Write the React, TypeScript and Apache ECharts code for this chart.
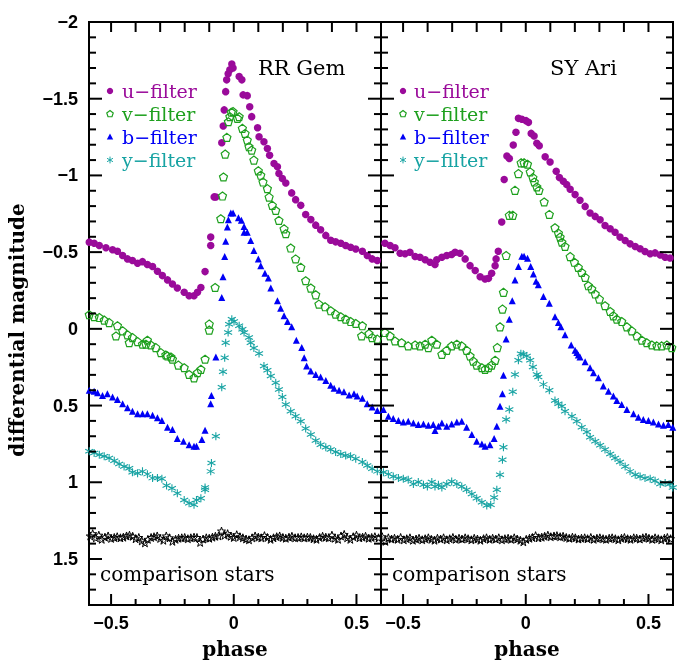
import React, { useEffect, useRef } from 'react';
import * as echarts from 'echarts';

// ---------- axis setup ----------
const phaseMin = -0.59;
const phaseMax = 0.6;
const magMin = -2;
const magMax = 1.8;
const xMajorTicks = [-0.5, 0, 0.5];
const xMinorTicks = [-0.4, -0.3, -0.2, -0.1, 0.1, 0.2, 0.3, 0.4];
const yMajorTicks = [-2, -1.5, -1, -0.5, 0, 0.5, 1, 1.5];
const yMinorTicks = [-1.9, -1.8, -1.7, -1.6, -1.4, -1.3, -1.2, -1.1, -0.9, -0.8, -0.7, -0.6, -0.4, -0.3, -0.2, -0.1,
  0.1, 0.2, 0.3, 0.4, 0.6, 0.7, 0.8, 0.9, 1.1, 1.2, 1.3, 1.4, 1.6, 1.7];

const starNames = ['RR Gem', 'SY Ari'];
const filterNames = ['u−filter', 'v−filter', 'b−filter', 'y−filter'];
const compLabel = 'comparison stars';

// ---------- RR Gem (left panel) ----------
const rrU = [[-0.589,-0.565],[-0.569,-0.558],[-0.548,-0.543],[-0.521,-0.528],[-0.494,-0.515],[-0.474,-0.506],[-0.453,-0.478],[-0.433,-0.456],[-0.413,-0.445],[-0.392,-0.427],[-0.372,-0.438],[-0.352,-0.419],[-0.331,-0.406],[-0.311,-0.375],[-0.291,-0.347],[-0.270,-0.319],[-0.250,-0.292],[-0.230,-0.266],[-0.202,-0.238],[-0.182,-0.216],[-0.162,-0.216],[-0.148,-0.238],[-0.134,-0.27],[-0.117,-0.373],[-0.094,-0.543],[-0.094,-0.598],[-0.08,-0.86],[-0.073,-0.859],[-0.049,-1.213],[-0.043,-1.322],[-0.039,-1.427],[-0.033,-1.546],[-0.029,-1.623],[-0.023,-1.662],[-0.016,-1.688],[-0.008,-1.726],[-0.003,-1.7],[0.022,-1.645],[0.033,-1.623],[0.038,-1.525],[0.055,-1.52],[0.065,-1.448],[0.073,-1.383],[0.097,-1.311],[0.103,-1.252],[0.123,-1.219],[0.137,-1.176],[0.146,-1.132],[0.164,-1.078],[0.178,-1.056],[0.184,-1.012],[0.198,-0.98],[0.212,-0.951],[0.236,-0.886],[0.252,-0.842],[0.273,-0.805],[0.293,-0.745],[0.314,-0.712],[0.334,-0.676],[0.354,-0.646],[0.375,-0.609],[0.395,-0.578],[0.415,-0.567],[0.436,-0.558],[0.456,-0.543],[0.476,-0.532],[0.497,-0.52],[0.524,-0.506],[0.544,-0.478],[0.564,-0.456],[0.585,-0.445]];
const rrV = [[-0.589,-0.092],[-0.569,-0.079],[-0.548,-0.074],[-0.528,-0.057],[-0.508,-0.041],[-0.48,0.046],[-0.474,-0.02],[-0.453,0.013],[-0.433,0.039],[-0.426,0.09],[-0.413,0.057],[-0.392,0.083],[-0.372,0.1],[-0.358,0.1],[-0.352,0.074],[-0.338,0.105],[-0.318,0.122],[-0.297,0.155],[-0.277,0.17],[-0.27,0.177],[-0.256,0.183],[-0.25,0.198],[-0.226,0.236],[-0.202,0.253],[-0.182,0.297],[-0.162,0.319],[-0.148,0.286],[-0.134,0.264],[-0.117,0.198],[-0.1,0.008],[-0.1,-0.031],[-0.076,-0.27],[-0.053,-0.718],[-0.046,-0.866],[-0.042,-0.99],[-0.035,-1.139],[-0.028,-1.248],[-0.022,-1.35],[-0.016,-1.383],[-0.01,-1.412],[-0.003,-1.416],[0.015,-1.372],[0.022,-1.383],[0.035,-1.307],[0.046,-1.274],[0.055,-1.23],[0.062,-1.187],[0.073,-1.165],[0.082,-1.1],[0.1,-1.03],[0.11,-1.001],[0.119,-0.957],[0.137,-0.914],[0.144,-0.859],[0.157,-0.805],[0.171,-0.772],[0.184,-0.707],[0.205,-0.652],[0.212,-0.62],[0.232,-0.527],[0.252,-0.456],[0.273,-0.401],[0.293,-0.314],[0.314,-0.266],[0.334,-0.222],[0.347,-0.161],[0.372,-0.144],[0.395,-0.118],[0.415,-0.096],[0.436,-0.079],[0.456,-0.063],[0.476,-0.048],[0.497,-0.035],[0.521,0.046],[0.524,-0.02],[0.551,0.031],[0.564,0.057],[0.585,0.067]];
const rrB = [[-0.589,0.401],[-0.569,0.406],[-0.555,0.417],[-0.535,0.434],[-0.515,0.423],[-0.494,0.445],[-0.474,0.46],[-0.453,0.489],[-0.433,0.515],[-0.413,0.537],[-0.392,0.554],[-0.372,0.554],[-0.352,0.554],[-0.331,0.563],[-0.311,0.58],[-0.293,0.597],[-0.27,0.641],[-0.25,0.656],[-0.23,0.715],[-0.205,0.733],[-0.182,0.755],[-0.162,0.766],[-0.152,0.766],[-0.13,0.722],[-0.117,0.661],[-0.094,0.489],[-0.091,0.434],[-0.073,0.183],[-0.049,-0.205],[-0.044,-0.34],[-0.037,-0.471],[-0.033,-0.571],[-0.026,-0.663],[-0.022,-0.711],[-0.012,-0.755],[-0.003,-0.755],[0.019,-0.724],[0.031,-0.707],[0.042,-0.667],[0.042,-0.63],[0.055,-0.63],[0.069,-0.576],[0.082,-0.51],[0.1,-0.456],[0.11,-0.412],[0.127,-0.362],[0.141,-0.332],[0.151,-0.266],[0.178,-0.183],[0.191,-0.135],[0.205,-0.085],[0.219,-0.048],[0.236,-0.013],[0.255,0.074],[0.277,0.122],[0.287,0.188],[0.297,0.242],[0.314,0.275],[0.334,0.297],[0.354,0.314],[0.375,0.336],[0.395,0.367],[0.409,0.388],[0.429,0.401],[0.449,0.41],[0.47,0.432],[0.49,0.423],[0.503,0.438],[0.524,0.453],[0.544,0.489],[0.564,0.51],[0.585,0.532]];
const rrY = [[-0.589,0.798],[-0.569,0.809],[-0.548,0.82],[-0.528,0.831],[-0.508,0.842],[-0.487,0.86],[-0.467,0.881],[-0.447,0.897],[-0.426,0.908],[-0.413,0.934],[-0.392,0.941],[-0.372,0.929],[-0.352,0.947],[-0.331,0.973],[-0.311,0.973],[-0.293,0.977],[-0.274,1.021],[-0.252,1.039],[-0.23,1.071],[-0.202,1.115],[-0.182,1.137],[-0.162,1.147],[-0.152,1.115],[-0.134,1.104],[-0.117,1.049],[-0.117,1.034],[-0.094,0.929],[-0.091,0.875],[-0.073,0.7],[-0.049,0.38],[-0.044,0.28],[-0.037,0.188],[-0.033,0.09],[-0.023,0.024],[-0.019,-0.03],[-0.008,-0.063],[0.001,-0.048],[0.022,-0.02],[0.035,0.002],[0.042,0.024],[0.062,0.057],[0.069,0.09],[0.082,0.125],[0.103,0.16],[0.123,0.242],[0.137,0.27],[0.151,0.308],[0.171,0.351],[0.184,0.395],[0.198,0.445],[0.212,0.493],[0.232,0.537],[0.252,0.569],[0.273,0.602],[0.293,0.65],[0.314,0.689],[0.334,0.728],[0.354,0.755],[0.375,0.772],[0.395,0.787],[0.415,0.803],[0.436,0.816],[0.456,0.825],[0.476,0.831],[0.497,0.846],[0.524,0.868],[0.544,0.89],[0.564,0.912],[0.585,0.929]];
const rrComp = [[-0.585,1.35],[-0.575,1.335],[-0.562,1.362],[-0.55,1.345],[-0.538,1.372],[-0.525,1.358],[-0.512,1.35],[-0.5,1.366],[-0.487,1.36],[-0.475,1.355],[-0.462,1.362],[-0.45,1.358],[-0.437,1.35],[-0.425,1.345],[-0.412,1.352],[-0.4,1.368],[-0.387,1.36],[-0.375,1.382],[-0.362,1.395],[-0.35,1.372],[-0.337,1.36],[-0.325,1.355],[-0.312,1.35],[-0.3,1.366],[-0.287,1.378],[-0.275,1.35],[-0.262,1.362],[-0.25,1.385],[-0.237,1.372],[-0.225,1.365],[-0.212,1.362],[-0.2,1.36],[-0.187,1.368],[-0.175,1.362],[-0.162,1.358],[-0.15,1.36],[-0.137,1.392],[-0.125,1.37],[-0.112,1.362],[-0.1,1.365],[-0.087,1.358],[-0.075,1.352],[-0.062,1.35],[-0.05,1.318],[-0.037,1.345],[-0.025,1.335],[-0.012,1.352],[0,1.36],[0.012,1.342],[0.025,1.355],[0.037,1.362],[0.05,1.37],[0.062,1.375],[0.075,1.362],[0.087,1.35],[0.1,1.358],[0.112,1.362],[0.125,1.348],[0.137,1.36],[0.15,1.372],[0.162,1.362],[0.175,1.355],[0.187,1.35],[0.2,1.36],[0.212,1.365],[0.225,1.358],[0.237,1.352],[0.25,1.362],[0.262,1.36],[0.275,1.356],[0.287,1.362],[0.3,1.358],[0.312,1.36],[0.325,1.368],[0.337,1.372],[0.35,1.36],[0.362,1.352],[0.375,1.358],[0.387,1.362],[0.4,1.345],[0.412,1.365],[0.425,1.372],[0.437,1.35],[0.45,1.34],[0.462,1.362],[0.475,1.372],[0.487,1.355],[0.5,1.345],[0.512,1.362],[0.525,1.358],[0.537,1.352],[0.55,1.365],[0.562,1.36],[0.575,1.355],[0.59,1.362]];

// ---------- SY Ari (right panel) ----------
const syU = [[-0.574,-0.558],[-0.553,-0.543],[-0.533,-0.528],[-0.512,-0.493],[-0.492,-0.489],[-0.472,-0.499],[-0.451,-0.471],[-0.431,-0.467],[-0.41,-0.45],[-0.39,-0.434],[-0.37,-0.419],[-0.363,-0.45],[-0.342,-0.467],[-0.322,-0.478],[-0.302,-0.484],[-0.288,-0.499],[-0.268,-0.493],[-0.247,-0.456],[-0.227,-0.412],[-0.206,-0.38],[-0.186,-0.34],[-0.166,-0.325],[-0.152,-0.329],[-0.139,-0.362],[-0.125,-0.412],[-0.121,-0.456],[-0.112,-0.506],[-0.098,-0.696],[-0.088,-0.973],[-0.077,-1.126],[-0.067,-1.11],[-0.051,-1.198],[-0.04,-1.281],[-0.03,-1.372],[-0.016,-1.366],[0.001,-1.357],[0.011,-1.346],[0.022,-1.274],[0.034,-1.257],[0.045,-1.209],[0.055,-1.193],[0.079,-1.121],[0.099,-1.088],[0.124,-1.027],[0.137,-0.986],[0.153,-0.962],[0.167,-0.94],[0.181,-0.91],[0.201,-0.875],[0.221,-0.838],[0.242,-0.798],[0.262,-0.755],[0.283,-0.733],[0.303,-0.711],[0.323,-0.674],[0.344,-0.652],[0.364,-0.63],[0.384,-0.598],[0.405,-0.576],[0.425,-0.554],[0.446,-0.537],[0.466,-0.522],[0.486,-0.504],[0.507,-0.489],[0.527,-0.495],[0.548,-0.482],[0.568,-0.467],[0.588,-0.462]];
const syV = [[-0.574,0.024],[-0.553,0.046],[-0.533,0.079],[-0.506,0.09],[-0.479,0.111],[-0.451,0.105],[-0.431,0.111],[-0.41,0.1],[-0.397,0.122],[-0.383,0.074],[-0.363,0.1],[-0.342,0.166],[-0.322,0.14],[-0.302,0.111],[-0.281,0.1],[-0.261,0.111],[-0.241,0.14],[-0.227,0.177],[-0.214,0.21],[-0.2,0.236],[-0.179,0.253],[-0.166,0.264],[-0.152,0.253],[-0.139,0.236],[-0.125,0.205],[-0.116,0.122],[-0.105,-0.013],[-0.095,-0.129],[-0.091,-0.238],[-0.08,-0.478],[-0.067,-0.74],[-0.053,-0.74],[-0.044,-0.903],[-0.03,-1.012],[-0.019,-1.082],[-0.007,-1.082],[0.007,-1.073],[0.018,-1.023],[0.029,-0.986],[0.035,-0.957],[0.045,-0.925],[0.054,-0.903],[0.075,-0.827],[0.096,-0.746],[0.119,-0.659],[0.133,-0.624],[0.14,-0.598],[0.147,-0.565],[0.16,-0.537],[0.181,-0.471],[0.198,-0.434],[0.214,-0.401],[0.228,-0.368],[0.242,-0.336],[0.255,-0.281],[0.269,-0.26],[0.283,-0.227],[0.3,-0.194],[0.323,-0.151],[0.344,-0.113],[0.357,-0.085],[0.371,-0.063],[0.391,-0.048],[0.412,-0.013],[0.432,0.013],[0.453,0.046],[0.473,0.074],[0.493,0.09],[0.514,0.105],[0.534,0.111],[0.554,0.111],[0.575,0.105],[0.595,0.122]];
const syB = [[-0.58,0.526],[-0.56,0.569],[-0.54,0.585],[-0.519,0.597],[-0.499,0.607],[-0.479,0.602],[-0.458,0.613],[-0.438,0.624],[-0.417,0.62],[-0.397,0.628],[-0.377,0.624],[-0.37,0.663],[-0.356,0.635],[-0.342,0.613],[-0.322,0.635],[-0.302,0.62],[-0.281,0.607],[-0.261,0.602],[-0.241,0.641],[-0.22,0.689],[-0.2,0.733],[-0.179,0.751],[-0.166,0.766],[-0.146,0.755],[-0.129,0.715],[-0.118,0.635],[-0.105,0.504],[-0.095,0.423],[-0.091,0.303],[-0.08,0.067],[-0.067,-0.063],[-0.055,-0.183],[-0.044,-0.319],[-0.03,-0.406],[-0.016,-0.473],[-0.007,-0.473],[0.007,-0.46],[0.02,-0.406],[0.031,-0.358],[0.042,-0.31],[0.051,-0.288],[0.072,-0.21],[0.096,-0.166],[0.119,-0.079],[0.133,-0.041],[0.143,-0.013],[0.16,0.039],[0.185,0.105],[0.201,0.14],[0.214,0.17],[0.208,0.155],[0.221,0.183],[0.242,0.214],[0.262,0.253],[0.276,0.286],[0.296,0.319],[0.316,0.373],[0.337,0.406],[0.357,0.438],[0.371,0.467],[0.391,0.493],[0.412,0.526],[0.439,0.554],[0.459,0.576],[0.479,0.591],[0.5,0.597],[0.52,0.607],[0.541,0.62],[0.561,0.628],[0.581,0.624],[0.599,0.641]];
const syY = [[-0.58,0.934],[-0.56,0.947],[-0.54,0.962],[-0.519,0.973],[-0.499,0.977],[-0.479,0.984],[-0.458,1.012],[-0.438,0.999],[-0.417,1.016],[-0.401,1.027],[-0.383,0.999],[-0.37,1.027],[-0.356,1.016],[-0.342,1.034],[-0.322,1.012],[-0.302,0.995],[-0.281,1.012],[-0.261,1.027],[-0.241,1.049],[-0.22,1.077],[-0.2,1.104],[-0.179,1.13],[-0.159,1.152],[-0.143,1.147],[-0.129,1.1],[-0.118,1.049],[-0.105,0.951],[-0.095,0.853],[-0.091,0.772],[-0.08,0.591],[-0.067,0.526],[-0.053,0.41],[-0.044,0.297],[-0.03,0.205],[-0.02,0.162],[-0.01,0.166],[0.004,0.177],[0.018,0.205],[0.029,0.249],[0.045,0.297],[0.051,0.314],[0.072,0.362],[0.096,0.401],[0.119,0.467],[0.133,0.489],[0.147,0.504],[0.16,0.537],[0.188,0.569],[0.208,0.602],[0.228,0.641],[0.249,0.672],[0.262,0.707],[0.283,0.733],[0.303,0.759],[0.323,0.787],[0.344,0.816],[0.364,0.842],[0.384,0.868],[0.405,0.897],[0.425,0.929],[0.446,0.951],[0.466,0.962],[0.486,0.973],[0.507,0.977],[0.527,0.99],[0.548,1.012],[0.568,1.005],[0.588,1.012],[0.599,1.034]];
const syComp = [[-0.585,1.355],[-0.572,1.385],[-0.56,1.362],[-0.547,1.37],[-0.535,1.365],[-0.522,1.372],[-0.51,1.36],[-0.497,1.375],[-0.485,1.368],[-0.472,1.362],[-0.46,1.378],[-0.447,1.37],[-0.435,1.365],[-0.422,1.375],[-0.41,1.368],[-0.397,1.362],[-0.385,1.372],[-0.372,1.378],[-0.36,1.365],[-0.347,1.37],[-0.335,1.362],[-0.322,1.375],[-0.31,1.368],[-0.297,1.36],[-0.285,1.372],[-0.272,1.365],[-0.26,1.37],[-0.247,1.362],[-0.235,1.368],[-0.222,1.375],[-0.21,1.365],[-0.197,1.37],[-0.185,1.378],[-0.172,1.368],[-0.16,1.362],[-0.147,1.372],[-0.135,1.365],[-0.122,1.37],[-0.11,1.362],[-0.097,1.375],[-0.085,1.368],[-0.072,1.365],[-0.06,1.372],[-0.047,1.362],[-0.035,1.37],[-0.022,1.378],[-0.01,1.388],[0.002,1.372],[0.015,1.365],[0.027,1.36],[0.04,1.348],[0.052,1.362],[0.065,1.358],[0.077,1.352],[0.09,1.345],[0.102,1.355],[0.115,1.35],[0.127,1.348],[0.14,1.355],[0.152,1.352],[0.165,1.36],[0.177,1.365],[0.19,1.358],[0.202,1.362],[0.215,1.37],[0.227,1.365],[0.24,1.362],[0.252,1.368],[0.265,1.36],[0.277,1.372],[0.29,1.365],[0.302,1.362],[0.315,1.368],[0.327,1.372],[0.34,1.365],[0.352,1.362],[0.365,1.368],[0.377,1.375],[0.39,1.365],[0.402,1.36],[0.415,1.368],[0.427,1.372],[0.44,1.362],[0.452,1.365],[0.465,1.37],[0.477,1.362],[0.49,1.358],[0.502,1.365],[0.515,1.372],[0.527,1.362],[0.54,1.368],[0.552,1.375],[0.565,1.365],[0.577,1.36],[0.59,1.368]];

// ---------- styling ----------
const C_U = '#9a0a9a';
const C_V = '#1ea01e';
const C_B = '#0000f5';
const C_Y = '#17a3a3';
const C_K = '#000000';
const PENT = 'path://M0,-10L9.51,-3.09L5.88,8.09L-5.88,8.09L-9.51,-3.09Z';
const AST = 'path://M0,-10L0,10M-8.66,-5L8.66,5M-8.66,5L8.66,-5';
const STAR = 'path://M0,-10L2.35,-3.24L9.51,-3.09L3.8,1.24L5.88,8.09L0,4L-5.88,8.09L-3.8,1.24L-9.51,-3.09L-2.35,-3.24Z';

const SERIF = '"DejaVu Serif", "Liberation Serif", serif';
const SANS = '"Liberation Sans", Arial, sans-serif';

const GRID_TOP = 22;
const GRID_H = 583;
const GRID_W = 292;
const GRID_LEFTS = [89, 381];

const fmt = (v: number) => (v < 0 ? '−' + String(Math.abs(v)) : String(v));

function xAxisFor(grid: number) {
  return {
    type: 'value', gridIndex: grid, min: phaseMin, max: phaseMax, position: 'bottom',
    splitLine: { show: false }, axisLine: { show: false, onZero: false }, axisTick: { show: false },
    axisLabel: { show: true, customValues: xMajorTicks, formatter: fmt, color: C_K, fontFamily: SANS, fontWeight: 'bold', fontSize: 18, margin: 9 },
  };
}
function yAxisFor(grid: number, labels: boolean) {
  return {
    type: 'value', gridIndex: grid, min: magMin, max: magMax, inverse: true, position: 'left',
    splitLine: { show: false }, axisLine: { show: false, onZero: false }, axisTick: { show: false },
    axisLabel: labels ? { show: true, customValues: yMajorTicks, formatter: fmt, color: C_K, fontFamily: SANS, fontWeight: 'bold', fontSize: 18, margin: 11 } : { show: false },
  };
}

function scatter(name: string, data: number[][], xi: number, yi: number, symbol: string, size: number, color: string, filled: boolean, bw = 1.2) {
  return {
    type: 'scatter', name, data, xAxisIndex: xi, yAxisIndex: yi, symbol, symbolSize: size, clip: false, silent: true,
    itemStyle: filled ? { color, borderWidth: 0, opacity: 1 } : { color: 'rgba(0,0,0,0)', borderColor: color, borderWidth: bw, opacity: 1 },
    emphasis: { disabled: true },
  };
}

function legendGraphics(mx: number, tx: number) {
  const rowsY = [91, 114, 137, 160];
  const colors = [C_U, C_V, C_B, C_Y];
  const els: any[] = [];
  els.push({ type: 'circle', shape: { cx: mx, cy: rowsY[0], r: 3.2 }, style: { fill: C_U } });
  const pts: number[][] = [];
  for (let k = 0; k < 5; k++) {
    const a = -Math.PI / 2 + (k * 2 * Math.PI) / 5;
    pts.push([mx + 3.4 * Math.cos(a), rowsY[1] + 3.4 * Math.sin(a)]);
  }
  els.push({ type: 'polygon', shape: { points: pts }, style: { fill: 'none', stroke: C_V, lineWidth: 1.2 } });
  els.push({ type: 'polygon', shape: { points: [[mx, rowsY[2] - 3.5], [mx + 3.2, rowsY[2] + 2.5], [mx - 3.2, rowsY[2] + 2.5]] }, style: { fill: C_B } });
  for (let k = 0; k < 3; k++) {
    const a = -Math.PI / 2 + (k * Math.PI) / 3;
    const dx = 3.4 * Math.cos(a), dy = 3.4 * Math.sin(a);
    els.push({ type: 'line', shape: { x1: mx - dx, y1: rowsY[3] - dy, x2: mx + dx, y2: rowsY[3] + dy }, style: { stroke: C_Y, lineWidth: 1 } });
  }
  filterNames.forEach((n, i) => {
    els.push({ type: 'text', x: tx, y: rowsY[i], style: { text: n, fill: colors[i], font: `19px ${SERIF}`, textAlign: 'left', textVerticalAlign: 'middle' } });
  });
  return els;
}

// Tick marks hanging from the grid box; positions along each axis come from the chart's scale,
// with the grid's own linear mapping as a fallback.
function tickGraphics(chart: any, gi: number) {
  const els: any[] = [];
  const top = GRID_TOP, bottom = GRID_TOP + GRID_H;
  const left = GRID_LEFTS[gi], right = GRID_LEFTS[gi] + GRID_W;
  const xPx = (v: number) => {
    let x: any = chart.convertToPixel({ xAxisIndex: gi }, v);
    if (Array.isArray(x)) x = x[0];
    if (typeof x !== 'number' || !isFinite(x) || x < left - 1 || x > right + 1) {
      x = left + ((v - phaseMin) / (phaseMax - phaseMin)) * GRID_W;
    }
    return x;
  };
  const yPx = (v: number) => chart.convertToPixel({ yAxisIndex: gi }, v);
  const vRect = (x: number, y: number, len: number) =>
    els.push({ type: 'rect', z: 50, shape: { x: x - 1, y, width: 2, height: len }, style: { fill: C_K } });
  const hRect = (x: number, y: number, len: number) =>
    els.push({ type: 'rect', z: 50, shape: { x, y: y - 1, width: len, height: 2 }, style: { fill: C_K } });
  xMajorTicks.forEach((v) => { const x = xPx(v); vRect(x, bottom - 11, 11); vRect(x, top, 10); });
  xMinorTicks.forEach((v) => { const x = xPx(v); vRect(x, bottom - 6, 6); vRect(x, top, 10); });
  yMajorTicks.forEach((v) => { const y = yPx(v); hRect(left, y, 13); hRect(right - 13, y, 13); });
  yMinorTicks.forEach((v) => { const y = yPx(v); hRect(left, y, 7); hRect(right - 7, y, 7); });
  return els;
}

export default function App() {
  const ref = useRef<HTMLDivElement>(null);
  useEffect(() => {
    if (!ref.current) return;
    const chart = echarts.init(ref.current, null, { renderer: 'svg' });
    const gridBase = { top: GRID_TOP, height: GRID_H, width: GRID_W, show: true, borderColor: C_K, borderWidth: 2, backgroundColor: 'transparent', containLabel: false };
    const baseGraphics = [
      ...legendGraphics(110, 122),
      ...legendGraphics(403, 414),
      { type: 'text', x: 258, y: 68, style: { text: starNames[0], fill: C_K, font: `21px ${SERIF}`, textAlign: 'left', textVerticalAlign: 'middle' } },
      { type: 'text', x: 550, y: 68, style: { text: starNames[1], fill: C_K, font: `21px ${SERIF}`, textAlign: 'left', textVerticalAlign: 'middle' } },
      { type: 'text', x: 100, y: 574, style: { text: compLabel, fill: C_K, font: `20px ${SERIF}`, textAlign: 'left', textVerticalAlign: 'middle' } },
      { type: 'text', x: 392, y: 574, style: { text: compLabel, fill: C_K, font: `20px ${SERIF}`, textAlign: 'left', textVerticalAlign: 'middle' } },
      { type: 'text', x: 235, y: 649, style: { text: 'phase', fill: C_K, font: `bold 20px ${SERIF}`, textAlign: 'center', textVerticalAlign: 'middle' } },
      { type: 'text', x: 527, y: 649, style: { text: 'phase', fill: C_K, font: `bold 20px ${SERIF}`, textAlign: 'center', textVerticalAlign: 'middle' } },
      { type: 'text', x: 17, y: 330, rotation: Math.PI / 2, style: { text: 'differential magnitude', fill: C_K, font: `bold 20px ${SERIF}`, textAlign: 'center', textVerticalAlign: 'middle' } },
    ];
    const option: any = {
      animation: false,
      grid: GRID_LEFTS.map((l) => ({ ...gridBase, left: l })),
      xAxis: [xAxisFor(0), xAxisFor(1)],
      yAxis: [yAxisFor(0, true), yAxisFor(1, false)],
      series: [
        scatter('comp RR', rrComp, 0, 0, STAR, 8, C_K, false, 1),
        scatter('u RR', rrU, 0, 0, 'circle', 7.5, C_U, true),
        scatter('v RR', rrV, 0, 0, PENT, 8, C_V, false),
        scatter('b RR', rrB, 0, 0, 'triangle', 7, C_B, true),
        scatter('y RR', rrY, 0, 0, AST, 8, C_Y, false, 1.1),
        scatter('comp SY', syComp, 1, 1, STAR, 8, C_K, false, 1),
        scatter('u SY', syU, 1, 1, 'circle', 7.5, C_U, true),
        scatter('v SY', syV, 1, 1, PENT, 8, C_V, false),
        scatter('b SY', syB, 1, 1, 'triangle', 7, C_B, true),
        scatter('y SY', syY, 1, 1, AST, 8, C_Y, false, 1.1),
      ],
      graphic: baseGraphics,
    };
    chart.setOption(option);
    const ticks = [...tickGraphics(chart, 0), ...tickGraphics(chart, 1)];
    chart.setOption({ graphic: [...baseGraphics, ...ticks] });
    return () => chart.dispose();
  }, []);
  return <div ref={ref} style={{ position: 'fixed', left: 0, top: 0, width: 681, height: 667 }} />;
}
